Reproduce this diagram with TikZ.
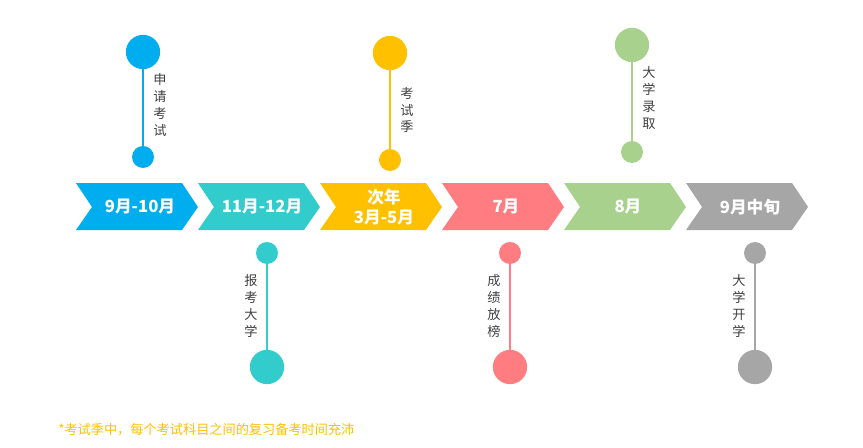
\documentclass[tikz,border=0pt]{standalone}
\usepackage{fontspec}
\setmainfont{Noto Sans CJK SC}
\definecolor{cblue}{HTML}{00AEEF}
\definecolor{cteal}{HTML}{33CCCC}
\definecolor{cyellow}{HTML}{FFC000}
\definecolor{cred}{HTML}{FF7C80}
\definecolor{cgreen}{HTML}{A9D18E}
\definecolor{cgray}{HTML}{A6A6A6}
\begin{document}
\begin{tikzpicture}[x=0.02cm, y=-0.02cm,
			stage/.style = {text=white, font=\fontsize{9.5}{11}\selectfont\bfseries, align=center},
			big/.style   = {circle, minimum size=19.5pt, inner sep=0pt},
			small/.style = {circle, minimum size=12.5pt, inner sep=0pt},
			vtext/.style = {text=black!75, font=\fontsize{7.5}{9.5}\selectfont, align=center, inner sep=0pt},
			stem/.style  = {line width=1.2pt}]
			
			\useasboundingbox (0,0) rectangle (863,447);
			
			% chevrons
			\foreach \x/\c/\t [count=\i] in {76/cblue/9月-10月, 198/cteal/11月-12月, 320/cyellow/{次年\\3月-5月},
				442/cred/7月, 564/cgreen/8月, 686/cgray/9月中旬} {
				\fill[\c] (\x,183) -- (\x+16,207) -- (\x,230) -- (\x+106,230) -- (\x+122,207) -- (\x+106,183) -- cycle;
				\node[stage] (s\i) at (\x+64,207) {\t};
			}
			
			% pins above
			\foreach \x/\c/\t/\ytop/\ybot/\ty [count=\i] in {143/cblue/{申\\请\\考\\试}/52/157/105,
				390/cyellow/{考\\试\\季}/53/160/110, 632/cgreen/{大\\学\\录\\取}/45/152/98} {
				\node[big, fill=\c] (pa\i) at (\x,\ytop) {};
				\node[small, fill=\c] (qa\i) at (\x,\ybot) {};
				\draw[stem, \c] (pa\i) -- (qa\i);
				\node[vtext] (ta\i) at (\x+17,\ty) {\t};
			}
			
			% pins below
			\foreach \x/\c/\t [count=\i] in {267/cteal/{报\\考\\大\\学}, 510/cred/{成\\绩\\放\\榜},
				755/cgray/{大\\学\\开\\学}} {
				\node[small, fill=\c] (pb\i) at (\x,253) {};
				\node[big, fill=\c] (qb\i) at (\x,367) {};
				\draw[stem, \c] (pb\i) -- (qb\i);
				\node[vtext] (tb\i) at (\x-16,306) {\t};
			}
			
			\node[anchor=west, text=cyellow, font=\fontsize{7.5}{9}\selectfont, inner sep=0pt] (note) at (58,430)
				{*考试季中，每个考试科目之间的复习备考时间充沛};
		\end{tikzpicture}
\end{document}
